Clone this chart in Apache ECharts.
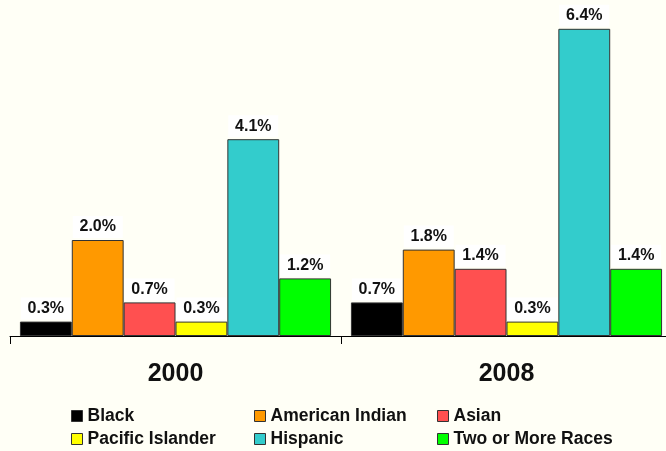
<!DOCTYPE html>
<html><head><meta charset="utf-8">
<script src="https://cdn.jsdelivr.net/npm/echarts@6/dist/echarts.min.js"></script>
<style>html,body{margin:0;padding:0;background:#FFFFF6;overflow:hidden;}#c{width:672px;height:451px;}</style>
</head><body><div id="c"></div>
<script>
var years = ['2000', '2008'];
var seriesNames = ['Black', 'American Indian', 'Asian', 'Pacific Islander', 'Hispanic', 'Two or More Races'];
var black = [0.3, 0.7];
var americanIndian = [2.0, 1.8];
var asian = [0.7, 1.4];
var pacificIslander = [0.3, 0.3];
var hispanic = [4.1, 6.4];
var twoOrMore = [1.2, 1.4];
var colors = ['#000000', '#FF9900', '#FF5050', '#FFFF00', '#33CCCC', '#00FF00'];
var values = [black, americanIndian, asian, pacificIslander, hispanic, twoOrMore];

var font = '"Liberation Sans", Arial, sans-serif';
var chart = echarts.init(document.getElementById('c'), null, {renderer: 'canvas'});
var series = seriesNames.map(function (n, i) {
  return {
    name: n, type: 'bar', data: values[i],
    barGap: '0%', barCategoryGap: '6%',
    itemStyle: {color: colors[i], borderColor: '#333', borderWidth: 1},
    label: {
      show: true, position: 'top', distance: 2,
      formatter: function (p) { return p.value.toFixed(1) + '%'; },
      fontFamily: font, fontWeight: 'bold', fontSize: 16, color: '#111',
      backgroundColor: '#FFFFFF',
      width: 50, align: 'center', lineHeight: 16, padding: [3, 0]
    },
    emphasis: {disabled: true}
  };
});
function legendCol(names, left) {
  return {
    orient: 'vertical', left: left, top: 407, height: 44, itemWidth: 11, itemHeight: 11, itemGap: 5,
    padding: 0,
    data: names.map(function (n) { return {name: n, icon: 'rect'}; }),
    itemStyle: {borderColor: '#333', borderWidth: 1},
    textStyle: {fontFamily: font, fontWeight: 'bold', fontSize: 17.5, color: '#111', lineHeight: 18},
    selectedMode: false
  };
}
chart.setOption({
  backgroundColor: '#FFFFF6',
  animation: false,
  color: colors,
  grid: {left: 10, top: 0, right: 0, height: 336},
  xAxis: {
    type: 'category', data: years,
    axisLine: {lineStyle: {color: '#000', width: 1}},
    axisTick: {show: true, length: 8, lineStyle: {color: '#000'}},
    axisLabel: {fontFamily: font, fontWeight: 'bold', fontSize: 25, color: '#111', margin: 26}
  },
  yAxis: {type: 'value', min: 0, max: 7, show: false, splitLine: {show: false}},
  legend: [
    legendCol(['Black', 'Pacific Islander'], 71),
    legendCol(['American Indian', 'Hispanic'], 254),
    legendCol(['Asian', 'Two or More Races'], 437)
  ],
  series: series
});
</script></body></html>
